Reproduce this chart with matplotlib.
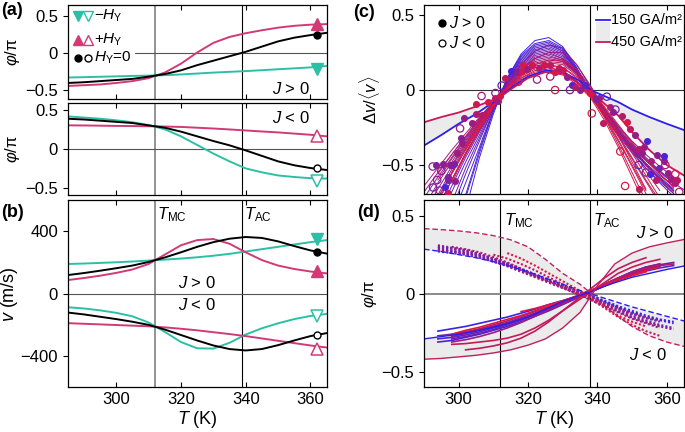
import numpy as np
import matplotlib.pyplot as plt
from matplotlib.colors import LinearSegmentedColormap
from matplotlib.patches import Rectangle

plt.rcParams['font.family'] = ['Liberation Sans', 'DejaVu Sans']
plt.rcParams['mathtext.fontset'] = 'custom'
plt.rcParams['mathtext.rm'] = 'Liberation Sans'
plt.rcParams['mathtext.it'] = 'Liberation Sans:italic'
plt.rcParams['font.size'] = 12
plt.rcParams['axes.linewidth'] = 0.9

TEAL = '#2dbfa6'
PINK = '#d23a76'
n = np.nan

# ---------------- panels (a), (b) ----------------
T = [285, 290, 295, 300, 305, 310, 315, 320, 325, 330, 335, 340, 345, 350, 355, 360, 365]

# (a) J > 0, phase / pi
a1_teal = [-0.326, -0.322, -0.316, -0.311, -0.305, -0.301, -0.295, -0.285, -0.273, -0.26, -0.25, -0.24, -0.228, -0.215, -0.203, -0.19, -0.17]
a1_pink = [-0.44, -0.43, -0.42, -0.40, -0.375, -0.335, -0.26, -0.14, 0.01, 0.14, 0.22, 0.27, 0.31, 0.345, 0.37, 0.385, 0.393]
a1_black = [-0.40, -0.39, -0.375, -0.36, -0.345, -0.315, -0.28, -0.23, -0.16, -0.10, -0.04, 0.02, 0.09, 0.16, 0.21, 0.245, 0.275]
# (a) J < 0
a2_teal = [0.415, 0.40, 0.385, 0.365, 0.34, 0.305, 0.25, 0.16, 0.05, -0.06, -0.16, -0.25, -0.30, -0.34, -0.36, -0.375, -0.38]
a2_pink = [0.30, 0.299, 0.296, 0.293, 0.291, 0.289, 0.285, 0.28, 0.27, 0.26, 0.248, 0.235, 0.222, 0.21, 0.195, 0.18, 0.16]
a2_black = [0.385, 0.375, 0.36, 0.345, 0.33, 0.30, 0.27, 0.22, 0.16, 0.10, 0.045, -0.02, -0.09, -0.16, -0.21, -0.245, -0.27]

# (b) velocity (m/s)
bp_teal = [190, 193, 197, 201, 206, 212, 218, 225, 233, 243, 255, 270, 285, 300, 315, 330, 343]
bp_pink = [87, 100, 115, 133, 155, 190, 250, 310, 343, 350, 320, 265, 215, 180, 158, 142, 130]
bp_black = [119, 132, 147, 163, 180, 203, 232, 265, 300, 330, 352, 363, 357, 335, 305, 277, 257]
bn_teal = [-87, -95, -107, -123, -145, -185, -245, -310, -350, -352, -315, -262, -222, -190, -163, -143, -130]
bn_pink = [-189, -193, -197, -201, -205, -209, -216, -225, -235, -247, -259, -272, -287, -302, -317, -332, -345]
bn_black = [-121, -133, -148, -163, -180, -200, -230, -265, -300, -332, -355, -364, -355, -330, -300, -272, -253]

mk_T = 362
a1_mk = [-0.21, 0.40, 0.25]      # teal, pink, black
a2_mk = [-0.41, 0.16, -0.24]
bp_mk = [353, 145, 266]
bn_mk = [-143, -352, -266]

# ---------------- panel (c) ----------------
cmap = LinearSegmentedColormap.from_list('bluered', ['#3a24e6', '#e0173e'])
Tc = [290, 294, 298, 302, 306, 310, 314, 318, 322, 326, 330, 334, 338, 342, 346, 350, 354, 358, 362, 366]
fit_c = [0.0, 0.05, 0.1, 0.15, 0.2, 0.2, 0.25, 0.3, 0.35, 0.35, 0.4, 0.45, 0.5, 0.55, 0.55,
         0.6, 0.65, 0.7, 0.75, 0.8, 0.85, 0.9, 0.9, 0.95, 1.0, 1.0]
fit_v = [
    [n, n, n, -0.80, -0.45, -0.16, 0.08, 0.24, 0.33, 0.35, 0.29, 0.15, -0.02, -0.17, -0.30, -0.42, -0.52, -0.61, -0.69, n],
    [n, n, n, -0.70, -0.40, -0.14, 0.08, 0.23, 0.31, 0.33, 0.28, 0.15, -0.01, -0.16, -0.29, -0.40, -0.50, -0.59, -0.67, n],
    [n, n, -0.85, -0.62, -0.38, -0.13, 0.07, 0.22, 0.30, 0.32, 0.27, 0.14, -0.01, -0.16, -0.29, -0.40, -0.50, -0.58, -0.66, n],
    [n, n, -0.80, -0.56, -0.34, -0.12, 0.07, 0.20, 0.28, 0.30, 0.26, 0.14, -0.01, -0.15, -0.28, -0.39, -0.49, -0.57, -0.64, n],
    [n, -0.90, -0.68, -0.48, -0.30, -0.11, 0.06, 0.19, 0.27, 0.29, 0.25, 0.13, -0.01, -0.15, -0.27, -0.37, -0.46, -0.54, -0.61, n],
    [n, n, n, -0.72, -0.42, -0.14, 0.06, 0.21, 0.29, 0.31, 0.26, 0.13, -0.02, -0.16, -0.28, -0.38, -0.47, -0.55, -0.62, -0.68],
    [n, -0.84, -0.64, -0.45, -0.28, -0.11, 0.05, 0.18, 0.26, 0.28, 0.24, 0.13, -0.01, -0.15, -0.28, -0.40, -0.50, -0.59, -0.67, n],
    [n, -0.78, -0.60, -0.42, -0.26, -0.10, 0.05, 0.17, 0.25, 0.27, 0.23, 0.12, -0.02, -0.16, -0.29, -0.41, -0.52, -0.62, -0.71, n],
    [-0.82, -0.66, -0.51, -0.36, -0.22, -0.09, 0.04, 0.15, 0.23, 0.25, 0.21, 0.11, -0.01, -0.13, -0.24, -0.34, -0.43, -0.51, -0.58, n],
    [n, n, -0.75, -0.52, -0.32, -0.12, 0.04, 0.17, 0.26, 0.30, 0.28, 0.17, 0.02, -0.13, -0.27, -0.39, -0.50, -0.59, -0.67, n],
    [n, -0.72, -0.56, -0.40, -0.25, -0.10, 0.04, 0.16, 0.24, 0.26, 0.22, 0.12, -0.01, -0.14, -0.26, -0.37, -0.47, -0.56, -0.64, n],
    [-0.72, -0.58, -0.45, -0.32, -0.20, -0.08, 0.04, 0.14, 0.21, 0.23, 0.20, 0.11, -0.01, -0.14, -0.27, -0.39, -0.50, -0.60, -0.69, n],
    [-0.78, -0.62, -0.48, -0.34, -0.21, -0.09, 0.04, 0.14, 0.22, 0.24, 0.21, 0.12, 0.00, -0.13, -0.26, -0.38, -0.49, -0.59, n, n],
    [n, -0.70, -0.53, -0.37, -0.22, -0.09, 0.03, 0.13, 0.20, 0.22, 0.20, 0.12, 0.00, -0.13, -0.25, -0.36, -0.46, -0.55, n, n],
    [-0.68, -0.55, -0.43, -0.31, -0.19, -0.08, 0.03, 0.12, 0.19, 0.21, 0.19, 0.11, 0.00, -0.12, -0.24, -0.35, -0.45, -0.54, -0.62, n],
    [n, -0.78, -0.60, -0.43, -0.27, -0.12, 0.02, 0.13, 0.21, 0.25, 0.25, 0.17, 0.03, -0.12, -0.26, -0.38, -0.49, -0.59, -0.68, n],
    [-0.64, -0.52, -0.40, -0.29, -0.18, -0.08, 0.02, 0.11, 0.18, 0.20, 0.19, 0.12, 0.01, -0.12, -0.26, -0.40, -0.54, -0.67, n, n],
    [n, -0.56, -0.43, -0.31, -0.19, -0.08, 0.02, 0.10, 0.17, 0.19, 0.18, 0.11, -0.01, -0.15, -0.30, -0.45, -0.60, -0.74, n, n],
    [n, -0.60, -0.46, -0.33, -0.20, -0.09, 0.02, 0.10, 0.16, 0.18, 0.17, 0.10, -0.02, -0.18, -0.36, -0.55, -0.74, n, n, n],
    [n, n, -0.50, -0.35, -0.21, -0.09, 0.02, 0.10, 0.15, 0.17, 0.15, 0.08, -0.03, -0.17, -0.33, -0.50, -0.67, n, n, n],
    [n, n, -0.55, -0.38, -0.23, -0.10, 0.01, 0.09, 0.14, 0.15, 0.13, 0.06, -0.04, -0.17, -0.31, -0.46, -0.61, -0.76, n, n],
    [n, n, n, -0.38, -0.23, -0.10, 0.01, 0.08, 0.13, 0.14, 0.12, 0.05, -0.04, -0.18, -0.34, -0.51, -0.69, n, n, n],
    [n, n, -0.62, -0.43, -0.26, -0.11, 0.01, 0.10, 0.17, 0.20, 0.20, 0.14, 0.02, -0.13, -0.30, -0.48, -0.66, n, n, n],
    [n, n, n, -0.40, -0.24, -0.10, 0.00, 0.07, 0.11, 0.12, 0.10, 0.04, -0.05, -0.20, -0.38, -0.58, -0.78, n, n, n],
    [n, -0.72, -0.55, -0.39, -0.24, -0.10, 0.02, 0.11, 0.15, 0.16, 0.15, 0.09, 0.00, -0.11, -0.23, -0.35, -0.46, -0.56, -0.65, n],
    [n, n, -0.60, -0.42, -0.26, -0.11, 0.00, 0.08, 0.12, 0.13, 0.12, 0.06, -0.03, -0.15, -0.28, -0.42, -0.57, -0.72, n, n],
]
Tref = [290, 295, 300, 305, 310, 312, 316, 320, 325, 330, 335, 338, 342, 346, 350, 355, 360, 365]
ref150 = [-0.37, -0.30, -0.225, -0.16, -0.08, -0.045, 0.03, 0.09, 0.13, 0.12, 0.06, 0.0, -0.04, -0.08, -0.13, -0.18, -0.225, -0.267]
ref450 = [-0.215, -0.18, -0.15, -0.11, -0.065, -0.045, 0.02, 0.08, 0.12, 0.11, 0.04, -0.01, -0.09, -0.17, -0.28, -0.40, -0.50, -0.57]

pt_T = [306.6, 312.4, 310.6, 310.4, 311.3, 312.0, 301.6, 303.7, 306.6, 300.6, 300.9, 300.4, 298.1, 297.5, 298.6,
        295.0, 296.9, 298.9, 292.6, 296.0, 294.5, 296.9, 292.5, 315.1, 316.7, 318.2, 317.2, 321.1, 323.1, 322.6,
        326.4, 327.8, 318.6, 326.3, 327.7, 330.2, 331.1, 332.6, 335.0, 336.4, 337.9, 342.7, 338.4, 341.7, 344.6,
        347.0, 348.5, 346.6, 350.9, 351.9, 354.3, 352.8, 351.9, 355.3, 357.2, 359.1, 359.6, 356.8, 348.0, 351.9,
        362.5, 361.1, 362.5, 363.6, 359.2, 343.7, 345.2, 332.1, 340.5, 313.5, 305.0, 308.5, 353.4, 293.6, 295.5,
        299.5, 297.0, 293.8, 305.0, 319.8, 324.5, 329.0, 333.5, 339.5, 349.5, 355.5, 357.8, 360.5, 354.0, 363.0]
pt_v = [-0.04, 0.03, -0.02, -0.05, -0.07, -0.04, -0.185, -0.22, -0.167, -0.32, -0.35, -0.256, -0.50, -0.50, -0.495,
        -0.54, -0.58, -0.61, -0.65, -0.65, -0.67, -0.69, -0.51, 0.13, 0.12, 0.13, 0.055, 0.167, 0.15, 0.07,
        0.09, 0.0, 0.167, 0.167, 0.12, 0.133, 0.09, 0.033, 0.0, 0.033, -0.022, -0.044, -0.156, -0.22, -0.145,
        -0.17, -0.21, -0.41, -0.30, -0.39, -0.34, -0.42, -0.50, -0.56, -0.43, -0.47, -0.50, -0.60, -0.64, -0.66,
        -0.56, -0.59, -0.62, -0.68, -0.44, -0.11, -0.13, 0.0, -0.05, 0.08, -0.09, -0.08, -0.38, -0.50, -0.495,
        -0.42, -0.60, -0.60, -0.16, 0.14, 0.17, 0.15, 0.02, -0.06, -0.26, -0.47, -0.52, -0.55, -0.55, -0.60]
pt_c = [0.7, 0.3, 0.5, 0.8, 0.6, 0.9, 0.55, 0.6, 0.75, 0.5, 0.55, 0.6, 0.45, 0.5, 0.4,
        0.5, 0.5, 0.55, 0.4, 0.1, 0.5, 0.9, 0.5, 0.1, 0.5, 0.9, 0.8, 0.9, 0.7, 0.6,
        0.7, 0.9, 0.95, 0.8, 0.95, 0.9, 0.6, 0.1, 0.5, 0.2, 0.95, 0.3, 0.95, 0.8, 0.55,
        0.75, 0.95, 0.95, 0.55, 0.75, 0.1, 0.55, 0.2, 0.1, 0.5, 0.45, 0.7, 0.75, 0.95, 0.8,
        0.95, 0.6, 0.7, 0.8, 0.1, 0.7, 0.4, 0.4, 0.6, 0.8, 0.9, 0.95, 0.6, 0.45, 0.5,
        0.6, 0.45, 0.5, 0.7, 0.6, 0.9, 0.8, 0.7, 0.45, 0.8, 0.65, 0.4, 0.55, 0.5, 0.75]
pt_filled = [0, 0, 0, 1, 1, 1, 1, 1, 1, 1, 1, 0, 1, 1, 1,
             0, 1, 1, 0, 1, 0, 1, 0, 1, 1, 1, 0, 1, 1, 0,
             0, 0, 1, 1, 1, 1, 1, 1, 1, 1, 1, 0, 0, 1, 1,
             1, 1, 0, 1, 1, 1, 1, 0, 1, 1, 1, 0, 1, 0, 1,
             0, 1, 1, 0, 1, 1, 0, 0, 1, 1, 1, 1, 1, 1, 1,
             1, 1, 0, 1, 1, 1, 1, 1, 1, 1, 1, 1, 1, 0, 1]

# ---------------- panel (d) ----------------
Td = [294, 298, 302, 306, 310, 314, 318, 322, 326, 330, 334, 338, 342, 346, 350, 354, 358, 362]
pos_c = [0.0, 0.2, 0.1, 0.3, 0.4, 0.5, 0.6, 0.7, 0.85, 0.8, 0.95, 1.0]
pos_v = [
    [-0.24, -0.225, -0.21, -0.19, -0.17, -0.15, -0.125, -0.10, -0.07, -0.045, -0.02, 0.01, 0.05, 0.09, 0.13, 0.17, n, n],
    [-0.29, -0.28, -0.265, -0.245, -0.22, -0.195, -0.165, -0.13, -0.095, -0.06, -0.025, 0.01, 0.05, 0.09, 0.12, 0.145, 0.165, 0.18],
    [-0.31, -0.30, -0.28, -0.26, -0.235, -0.21, -0.18, -0.145, -0.11, -0.07, -0.03, 0.01, 0.055, 0.10, 0.14, 0.17, 0.19, n],
    [n, -0.29, -0.275, -0.255, -0.23, -0.20, -0.17, -0.135, -0.10, -0.06, -0.025, 0.015, 0.06, 0.10, 0.135, 0.165, 0.185, 0.20],
    [-0.27, -0.26, -0.245, -0.23, -0.21, -0.19, -0.16, -0.13, -0.095, -0.06, -0.025, 0.01, 0.05, 0.09, 0.125, 0.155, 0.175, n],
    [n, -0.275, -0.255, -0.235, -0.21, -0.185, -0.155, -0.125, -0.09, -0.055, -0.02, 0.015, 0.055, 0.095, 0.13, 0.16, 0.18, n],
    [n, -0.31, -0.295, -0.275, -0.25, -0.22, -0.185, -0.145, -0.105, -0.065, -0.025, 0.015, 0.06, 0.10, 0.14, 0.17, 0.19, n],
    [n, -0.265, -0.245, -0.225, -0.20, -0.175, -0.145, -0.115, -0.085, -0.05, -0.015, 0.02, 0.06, 0.10, 0.135, 0.16, 0.18, 0.19],
    [n, -0.325, -0.32, -0.31, -0.30, -0.285, -0.26, -0.22, -0.17, -0.11, -0.05, 0.01, 0.07, 0.13, 0.17, 0.20, 0.22, n],
    [n, n, -0.36, -0.35, -0.335, -0.315, -0.285, -0.24, -0.18, -0.11, -0.04, 0.03, 0.10, 0.16, 0.20, 0.23, n, n],
    [n, n, n, n, n, n, -0.115, -0.095, -0.07, -0.045, -0.015, 0.02, 0.055, 0.09, 0.12, 0.15, 0.17, n],
    [n, -0.26, -0.235, -0.215, -0.19, -0.165, -0.14, -0.11, -0.08, -0.05, -0.02, 0.015, 0.05, 0.085, 0.115, 0.14, n, n],
]
neg_c = [0.0, 0.1, 0.15, 0.3, 0.45, 0.5, 0.6, 0.7, 0.8, 1.0]
neg_v = [
    [0.285, 0.27, 0.26, 0.24, 0.215, 0.185, 0.15, 0.115, 0.08, 0.05, 0.02, -0.01, -0.045, -0.08, -0.11, -0.14, -0.165, -0.18],
    [0.27, 0.26, 0.25, 0.23, 0.205, 0.18, 0.15, 0.115, 0.08, 0.045, 0.015, -0.02, -0.055, -0.09, -0.12, -0.15, -0.17, -0.19],
    [0.30, 0.29, 0.275, 0.25, 0.225, 0.195, 0.16, 0.125, 0.09, 0.055, 0.02, -0.015, -0.05, -0.09, -0.125, -0.155, -0.18, n],
    [0.30, 0.285, 0.27, 0.245, 0.22, 0.19, 0.155, 0.12, 0.085, 0.05, 0.015, -0.02, -0.06, -0.10, -0.14, -0.17, -0.20, -0.22],
    [0.29, 0.275, 0.26, 0.24, 0.21, 0.18, 0.145, 0.11, 0.075, 0.04, 0.005, -0.03, -0.07, -0.11, -0.15, -0.18, -0.21, -0.23],
    [0.31, 0.295, 0.28, 0.255, 0.225, 0.19, 0.155, 0.115, 0.08, 0.04, 0.0, -0.04, -0.08, -0.12, -0.16, -0.19, -0.22, n],
    [0.28, 0.27, 0.255, 0.235, 0.205, 0.175, 0.14, 0.105, 0.07, 0.035, 0.0, -0.035, -0.075, -0.115, -0.155, -0.185, -0.21, n],
    [n, 0.30, 0.285, 0.265, 0.235, 0.20, 0.16, 0.12, 0.08, 0.04, 0.005, -0.03, -0.065, -0.10, -0.13, -0.155, -0.175, n],
    [n, n, n, n, 0.25, 0.225, 0.19, 0.15, 0.105, 0.06, 0.015, -0.035, -0.09, -0.15, -0.20, -0.24, -0.27, n],
    [n, n, n, n, n, 0.26, 0.225, 0.18, 0.13, 0.08, 0.03, -0.025, -0.085, -0.14, -0.18, -0.21, n, n],
]
Tr = [290, 295, 300, 305, 310, 315, 320, 325, 330, 335, 338, 340, 345, 350, 355, 360, 365]
d_blue_pos = [-0.29, -0.275, -0.26, -0.24, -0.215, -0.185, -0.15, -0.10, -0.05, -0.01, 0.01, 0.03, 0.07, 0.105, 0.13, 0.155, 0.177]
d_red_pos = [-0.42, -0.415, -0.405, -0.395, -0.38, -0.36, -0.33, -0.29, -0.22, -0.12, -0.02, 0.05, 0.19, 0.26, 0.30, 0.325, 0.347]
d_blue_neg = [0.285, 0.27, 0.25, 0.23, 0.205, 0.175, 0.14, 0.10, 0.06, 0.02, 0.0, -0.015, -0.05, -0.085, -0.115, -0.145, -0.175]
d_red_neg = [0.417, 0.41, 0.402, 0.39, 0.372, 0.345, 0.30, 0.22, 0.13, 0.06, 0.005, -0.04, -0.13, -0.21, -0.27, -0.31, -0.338]

# ---------------- figure ----------------
fig = plt.figure(figsize=(6.85, 4.32), dpi=100)
ax_a1 = fig.add_axes([0.0988, 0.7701, 0.378, 0.2183])
ax_a2 = fig.add_axes([0.0988, 0.5486, 0.378, 0.2137])
ax_b = fig.add_axes([0.0988, 0.1035, 0.378, 0.4335])
ax_c = fig.add_axes([0.619, 0.5514, 0.3796, 0.437])
ax_d = fig.add_axes([0.619, 0.1035, 0.3796, 0.4335])

for ax in [ax_a1, ax_a2, ax_b]:
    ax.set_xlim(285, 365)
    ax.axvline(312, color='#8a8a8a', lw=1.3, zorder=1)
    ax.axvline(339, color='black', lw=0.8, zorder=1)
    ax.axhline(0, color='#555555', lw=0.8, zorder=1)
for ax in [ax_c, ax_d]:
    ax.set_xlim(290, 365)
    ax.axvline(312, color='black', lw=0.8, zorder=1)
    ax.axvline(338, color='black', lw=0.8, zorder=1)
for ax in [ax_a1, ax_a2, ax_b, ax_c, ax_d]:
    ax.set_xticks([300, 320, 340, 360])
    ax.tick_params(axis='x', direction='in', top=True, length=3.5, width=0.8, labelsize=12)
    ax.tick_params(axis='y', direction='out', length=3.5, width=0.8, labelsize=12)
for ax in [ax_a1, ax_a2, ax_c]:
    ax.tick_params(axis='x', labelbottom=False)

# (a) top
ax_a1.plot(T, a1_teal, color=TEAL, lw=1.4, zorder=2)
ax_a1.plot(T, a1_pink, color=PINK, lw=1.4, zorder=2)
ax_a1.plot(T, a1_black, color='black', lw=1.4, zorder=2)
ax_a1.plot(mk_T, a1_mk[0], 'v', color=TEAL, ms=9, zorder=4)
ax_a1.plot(mk_T, a1_mk[1], '^', color=PINK, ms=9, zorder=4)
ax_a1.plot(mk_T, a1_mk[2], 'o', color='black', ms=5, zorder=4)
ax_a1.set_ylim(-0.62, 0.65)
ax_a1.set_yticks([-0.5, 0, 0.5])
ax_a1.set_yticklabels(['\u22120.5', '0', '0.5'])
ax_a1.set_ylabel(r'$\varphi$/π', fontsize=12, labelpad=2)
ax_a1.text(360, -0.48, r'$J$ > 0', ha='right', va='center', fontsize=12)
ax_a1.add_patch(Rectangle((0, 0.36), 0.26, 0.64, transform=ax_a1.transAxes,
                          fc='white', ec='none', zorder=2.5))
rows = [(0.885, 'v', TEAL, r'$-H_\mathrm{Y}$'), (0.63, '^', PINK, r'$+H_\mathrm{Y}$'),
        (0.435, 'o', 'black', r'$H_\mathrm{Y}$=$0$')]
for y, m, col, lab in rows:
    ms = 5 if m == 'o' else 7
    ax_a1.plot(0.04, y, m, color=col, ms=ms, transform=ax_a1.transAxes, zorder=3)
    ax_a1.plot(0.078, y, m, mfc='white', mec=col, mew=1, ms=ms, transform=ax_a1.transAxes, zorder=3)
    ax_a1.text(0.1, y, lab, transform=ax_a1.transAxes, va='center', ha='left', fontsize=11, zorder=3)

# (a) bottom
ax_a2.plot(T, a2_teal, color=TEAL, lw=1.4, zorder=2)
ax_a2.plot(T, a2_pink, color=PINK, lw=1.4, zorder=2)
ax_a2.plot(T, a2_black, color='black', lw=1.4, zorder=2)
ax_a2.plot(mk_T, a2_mk[0], 'v', mfc='white', mec=TEAL, mew=1.1, ms=9, zorder=4)
ax_a2.plot(mk_T, a2_mk[1], '^', mfc='white', mec=PINK, mew=1.1, ms=9, zorder=4)
ax_a2.plot(mk_T, a2_mk[2], 'o', mfc='white', mec='black', mew=1, ms=5, zorder=4)
ax_a2.set_ylim(-0.59, 0.59)
ax_a2.set_yticks([-0.5, 0, 0.5])
ax_a2.set_yticklabels(['\u22120.5', '0', '0.5'])
ax_a2.set_ylabel(r'$\varphi$/π', fontsize=12, labelpad=2)
ax_a2.text(360, 0.39, r'$J$ < 0', ha='right', va='center', fontsize=12)

# (b)
ax_b.plot(T, bp_teal, color=TEAL, lw=1.4, zorder=2)
ax_b.plot(T, bp_pink, color=PINK, lw=1.4, zorder=2)
ax_b.plot(T, bp_black, color='black', lw=1.4, zorder=2)
ax_b.plot(T, bn_teal, color=TEAL, lw=1.4, zorder=2)
ax_b.plot(T, bn_pink, color=PINK, lw=1.4, zorder=2)
ax_b.plot(T, bn_black, color='black', lw=1.4, zorder=2)
ax_b.plot(mk_T, bp_mk[0], 'v', color=TEAL, ms=9, zorder=4)
ax_b.plot(mk_T, bp_mk[1], '^', color=PINK, ms=9, zorder=4)
ax_b.plot(mk_T, bp_mk[2], 'o', color='black', ms=5, zorder=4)
ax_b.plot(mk_T, bn_mk[0], 'v', mfc='white', mec=TEAL, mew=1.1, ms=9, zorder=4)
ax_b.plot(mk_T, bn_mk[1], '^', mfc='white', mec=PINK, mew=1.1, ms=9, zorder=4)
ax_b.plot(mk_T, bn_mk[2], 'o', mfc='white', mec='black', mew=1, ms=5, zorder=4)
ax_b.set_ylim(-600, 600)
ax_b.set_yticks([-400, 0, 400])
ax_b.set_yticklabels(['\u2212400', '0', '400'])
ax_b.set_ylabel(r'$v$ (m/s)', fontsize=13, labelpad=0)
ax_b.set_xlabel(r'$T$ (K)', fontsize=13, labelpad=1)
ax_b.text(312.6, 505, r'$T_\mathrm{MC}$', ha='left', va='center', fontsize=12)
ax_b.text(339.5, 505, r'$T_\mathrm{AC}$', ha='left', va='center', fontsize=12)
ax_b.text(325, 68, r'$J$ > 0', ha='center', va='center', fontsize=12)
ax_b.text(325, -72, r'$J$ < 0', ha='center', va='center', fontsize=12)

# (c)
ax_c.axhline(0, color='#333333', lw=0.8, zorder=1)
ax_c.fill_between(Tref, ref150, ref450, color='#ebebeb', lw=0, zorder=0.5)
for c, v in zip(fit_c, fit_v):
    ax_c.plot(Tc, v, color=cmap(c), lw=0.7, zorder=2)
ax_c.plot(Tref, ref150, color='#2a1ff0', lw=1.3, zorder=2.5)
ax_c.plot(Tref, ref450, color='#c8175a', lw=1.3, zorder=2.5)
for t, v, c, f in zip(pt_T, pt_v, pt_c, pt_filled):
    if f:
        ax_c.scatter(t, v, s=26, color=cmap(c), lw=0, zorder=3)
    else:
        ax_c.scatter(t, v, s=28, facecolor='none', edgecolor=cmap(c), lw=0.9, zorder=3)
ax_c.set_ylim(-0.692, 0.567)
ax_c.set_yticks([-0.5, 0, 0.5])
ax_c.set_yticklabels(['\u22120.5', '0', '0.5'])
ax_c.set_ylabel(r'$\Delta v/\langle v\rangle$', fontsize=12, labelpad=0)
ax_c.plot(0.068, 0.904, 'o', color='black', ms=5, transform=ax_c.transAxes)
ax_c.plot(0.068, 0.80, 'o', mfc='white', mec='black', mew=0.9, ms=5, transform=ax_c.transAxes)
ax_c.text(0.095, 0.904, r'$J$ > 0', transform=ax_c.transAxes, va='center', fontsize=11.5)
ax_c.text(0.095, 0.80, r'$J$ < 0', transform=ax_c.transAxes, va='center', fontsize=11.5)
ax_c.add_patch(Rectangle((0.663, 0.81), 0.052, 0.1, transform=ax_c.transAxes,
                         fc='#ebebeb', ec='none', zorder=3))
ax_c.plot([0.663, 0.715], [0.92, 0.92], color='#2a1ff0', lw=1.3, transform=ax_c.transAxes, zorder=4)
ax_c.plot([0.663, 0.715], [0.805, 0.805], color='#c8175a', lw=1.3, transform=ax_c.transAxes, zorder=4)
ax_c.text(0.72, 0.92, '150 GA/m²', transform=ax_c.transAxes, va='center', fontsize=10.5)
ax_c.text(0.72, 0.805, '450 GA/m²', transform=ax_c.transAxes, va='center', fontsize=10.5)

# (d)
ax_d.axhline(0, color='#8a8a8a', lw=1.4, zorder=1)
ax_d.fill_between(Tr, d_blue_pos, d_red_pos, color='#ebebeb', lw=0, zorder=0.5)
ax_d.fill_between(Tr, d_blue_neg, d_red_neg, color='#ebebeb', lw=0, zorder=0.5)
for c, v in zip(neg_c, neg_v):
    ax_d.plot(Td, v, color=cmap(c), lw=1.5, ls=(0, (1, 1)), zorder=2)
for c, v in zip(pos_c, pos_v):
    ax_d.plot(Td, v, color=cmap(c), lw=1.2, zorder=2.2)
ax_d.plot(Tr, d_blue_pos, color='#2a1ff0', lw=1.0, zorder=2.5)
ax_d.plot(Tr, d_red_pos, color='#c0205f', lw=1.0, zorder=2.5)
ax_d.plot(Tr, d_blue_neg, color='#2a1ff0', lw=1.0, ls=(0, (4, 2)), zorder=2.5)
ax_d.plot(Tr, d_red_neg, color='#c0205f', lw=1.0, ls=(0, (4, 2)), zorder=2.5)
ax_d.set_ylim(-0.6, 0.6)
ax_d.set_yticks([-0.5, 0, 0.5])
ax_d.set_yticklabels(['\u22120.5', '0', '0.5'])
ax_d.set_ylabel(r'$\varphi$/π', fontsize=12, labelpad=2)
ax_d.set_xlabel(r'$T$ (K)', fontsize=13, labelpad=1)
ax_d.text(313.2, 0.47, r'$T_\mathrm{MC}$', ha='left', va='center', fontsize=12)
ax_d.text(338.6, 0.47, r'$T_\mathrm{AC}$', ha='left', va='center', fontsize=12)
ax_d.text(362, 0.39, r'$J$ > 0', ha='right', va='center', fontsize=12)
ax_d.text(360, -0.39, r'$J$ < 0', ha='right', va='center', fontsize=12)

# panel labels
fig.text(0.002, 0.975, '(a)', fontsize=13, fontweight='bold', va='center')
fig.text(0.002, 0.507, '(b)', fontsize=13, fontweight='bold', va='center')
fig.text(0.515, 0.97, '(c)', fontsize=13, fontweight='bold', va='center')
fig.text(0.522, 0.507, '(d)', fontsize=13, fontweight='bold', va='center')

fig.savefig('out.png', dpi=100)
